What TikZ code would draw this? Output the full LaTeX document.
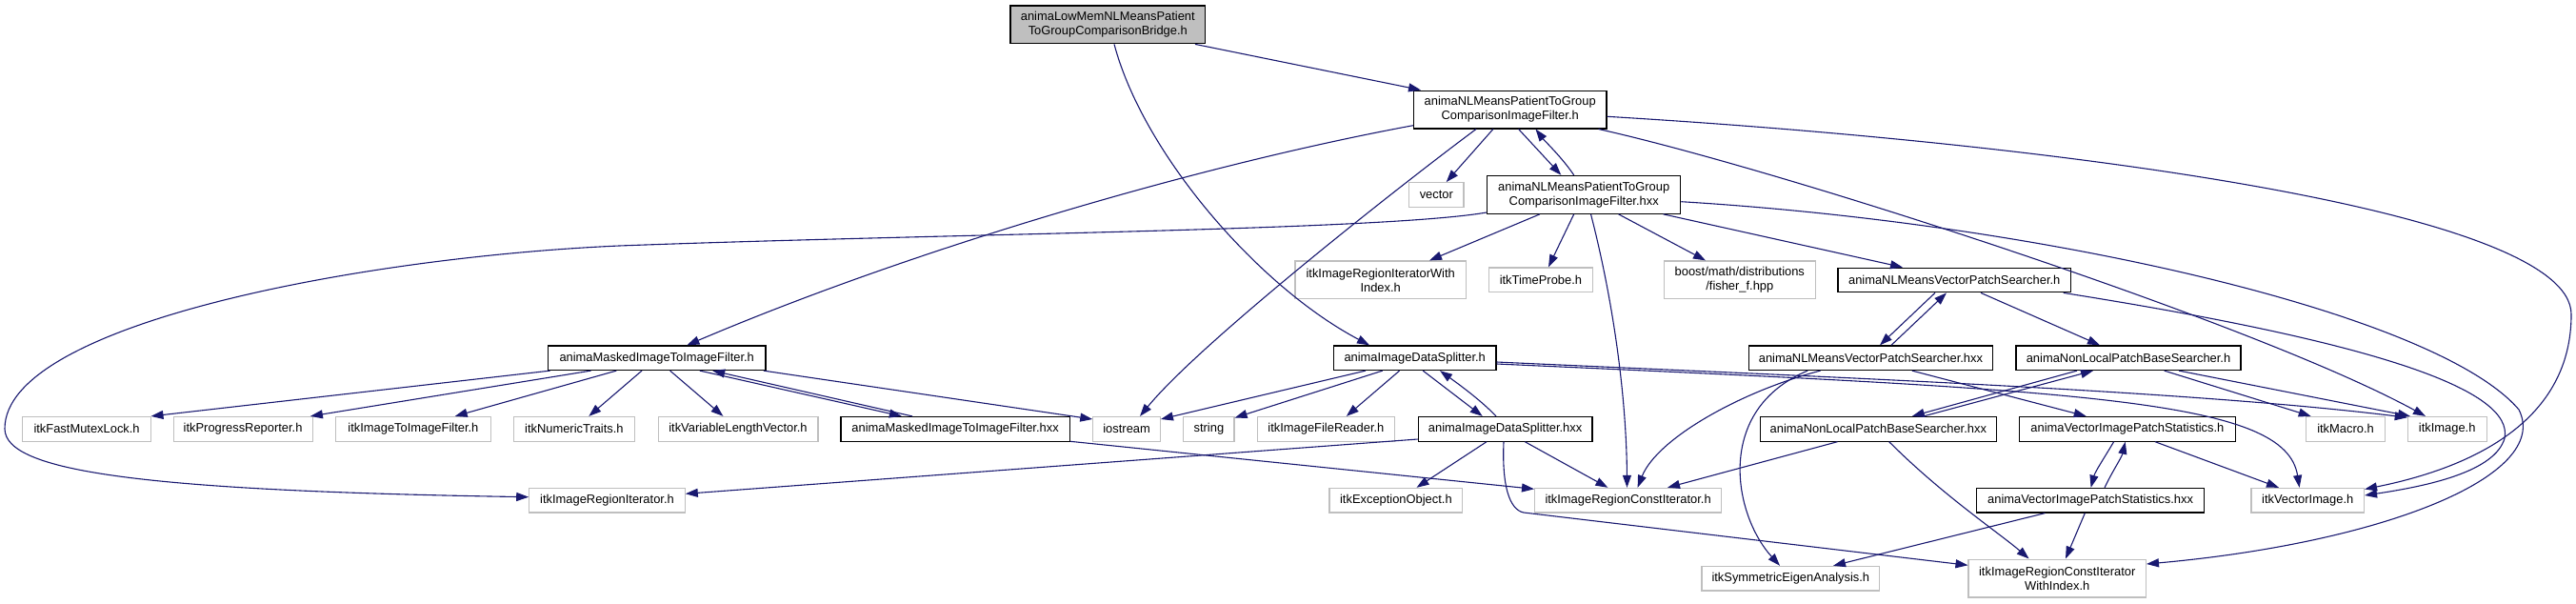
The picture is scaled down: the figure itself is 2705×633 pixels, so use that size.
\documentclass[tikz,border=0pt]{standalone}
\usepackage{fontspec}
\newfontfamily\dgfont{Liberation Sans}
\usetikzlibrary{arrows.meta,calc}
\definecolor{edgeblue}{HTML}{191970}
\definecolor{extgray}{HTML}{BFBFBF}
\newcommand\nodefont{\dgfont\fontsize{12.9}{15}\selectfont}
\tikzset{
  fbox/.style={draw=black, line width=1.2pt, rectangle, inner sep=0pt, align=center, font=\nodefont, text=black},
  ext/.style={fbox, draw=extgray},
  rootbox/.style={fbox, fill=extgray},
  edge/.style={draw=edgeblue, line width=1.1pt, -{Triangle[length=13pt,width=9pt]}},
  one/.style={minimum height=25.6pt},
  two/.style={minimum height=39.8pt},
}
\begin{document}
\begin{tikzpicture}[x=1pt,y=-1pt]
\useasboundingbox (0,0) rectangle (2705,633);
% nodes
\node[rootbox,two,minimum width=204.7pt] (root) at (1163.3,25.9) {animaLowMemNLMeansPatient\\ToGroupComparisonBridge.h};
\node[fbox,two,minimum width=202.6pt] (NLh) at (1585.7,115) {animaNLMeansPatientToGroup\\ComparisonImageFilter.h};
\node[ext,one,minimum width=57.5pt] (vector) at (1508.3,204.5) {vector};
\node[fbox,two,minimum width=203.1pt] (NLhxx) at (1663.2,204.3) {animaNLMeansPatientToGroup\\ComparisonImageFilter.hxx};
\node[ext,two,minimum width=179.3pt] (IRIWI) at (1449.7,293.9) {itkImageRegionIteratorWith\\Index.h};
\node[ext,one,minimum width=108.9pt] (timeprobe) at (1617.9,293.7) {itkTimeProbe.h};
\node[ext,two,minimum width=158.9pt] (boost) at (1826.8,293.9) {boost/math/distributions\\/fisher\_f.hpp};
\node[fbox,one,minimum width=244.5pt] (NLMVPSh) at (2052.2,294) {animaNLMeansVectorPatchSearcher.h};
\node[fbox,one,minimum width=228.6pt] (MaskedH) at (689.7,375.7) {animaMaskedImageToImageFilter.h};
\node[fbox,one,minimum width=170.6pt] (IDSh) at (1485.7,375.7) {animaImageDataSplitter.h};
\node[fbox,one,minimum width=256.3pt] (NLMVPShxx) at (1964.4,375.7) {animaNLMeansVectorPatchSearcher.hxx};
\node[fbox,one,minimum width=235.9pt] (NLPBSh) at (2235,375.7) {animaNonLocalPatchBaseSearcher.h};
\node[ext,one,minimum width=134.8pt] (fml) at (91.1,450.3) {itkFastMutexLock.h};
\node[ext,one,minimum width=146pt] (pr) at (255.1,450.3) {itkProgressReporter.h};
\node[ext,one,minimum width=163.4pt] (itoi) at (433.9,450.3) {itkImageToImageFilter.h};
\node[ext,one,minimum width=127.2pt] (nt) at (602.9,450.3) {itkNumericTraits.h};
\node[ext,one,minimum width=167.8pt] (vlv) at (775,450.3) {itkVariableLengthVector.h};
\node[fbox,one,minimum width=240.2pt] (MaskedHxx) at (1003.1,450.3) {animaMaskedImageToImageFilter.hxx};
\node[ext,one,minimum width=70.5pt] (iostream) at (1183.1,450.3) {iostream};
\node[ext,one,minimum width=53.2pt] (string) at (1269.4,450.3) {string};
\node[ext,one,minimum width=143.8pt] (ifr) at (1392.4,450.3) {itkImageFileReader.h};
\node[fbox,one,minimum width=182.6pt] (IDShxx) at (1580.6,450.3) {animaImageDataSplitter.hxx};
\node[fbox,one,minimum width=248.2pt] (NLPBShxx) at (1972.3,450.3) {animaNonLocalPatchBaseSearcher.hxx};
\node[fbox,one,minimum width=226.7pt] (VIPSh) at (2233.9,450.3) {animaVectorImagePatchStatistics.h};
\node[ext,one,minimum width=82.3pt] (macro) at (2463,450.3) {itkMacro.h};
\node[ext,one,minimum width=82.8pt] (image) at (2569.7,450.3) {itkImage.h};
\node[ext,one,minimum width=163.4pt] (IRI) at (637.5,525.2) {itkImageRegionIterator.h};
\node[ext,one,minimum width=139.7pt] (exc) at (1465.9,525.2) {itkExceptionObject.h};
\node[ext,one,minimum width=196pt] (IRCI) at (1709.6,525.2) {itkImageRegionConstIterator.h};
\node[fbox,one,minimum width=238.8pt] (VIPShxx) at (2195.1,525.2) {animaVectorImagePatchStatistics.hxx};
\node[ext,one,minimum width=118.5pt] (vimg) at (2423.2,525.2) {itkVectorImage.h};
\node[ext,one,minimum width=186.6pt] (symeig) at (1880.3,607.2) {itkSymmetricEigenAnalysis.h};
\node[ext,two,minimum width=186.3pt] (IRCIWI) at (2160.2,607) {itkImageRegionConstIterator\\WithIndex.h};
% edges from root
\draw[edge] ($(root.south)+(91.7,0)$) -- ($(NLh.north)+(-93.7,0)$);
\draw[edge] ($(root.south)+(6.7,0)$) .. controls (1200,160) and (1320,300) .. ($(IDSh.north)+(-47.7,0)$);
% edges from NLh
\draw[edge] ($(NLh.south)+(8.9,0)$) -- ($(NLhxx.north)+(-23.9,0)$);
\draw[edge] ($(NLhxx.north)+(-10.5,0)$) .. controls (1640,165) and (1622,148) .. ($(NLh.south)+(26.8,0)$);
\draw[edge] ($(NLh.south)+(-17.8,0)$) -- ($(vector.north)+(10.4,0)$);
\draw[edge] ($(NLh.west)+(0,16.7)$) .. controls (1250,175) and (950,265) .. ($(MaskedH.north)+(31.7,0)$);
\draw[edge] ($(NLh.south)+(-35.7,0)$) .. controls (1470,195) and (1260,360) .. ($(iostream.north)+(13.9,0)$);
\draw[edge] ($(NLh.south)+(92.9,0)$) .. controls (1870,178) and (2370,340) .. ($(image.north)+(-22.7,0)$);
\draw[edge] ($(NLh.east)+(0,7.3)$) .. controls (2150,150) and (2700,220) .. (2700,330)
   .. controls (2700,440) and (2600,490) .. ($(vimg.east)+(0,-11.7)$);
% edges from NLhxx
\draw[edge] ($(NLhxx.west)+(0,18.7)$) .. controls (1450,242) and (1000,245) .. (650,258)
   .. controls (380,270) and (5,340) .. (5,450)
   .. controls (5,495) and (150,515) .. ($(IRI.west)+(0,-3.5)$);
\draw[edge] ($(NLhxx.south)+(-46.2,0)$) -- ($(IRIWI.north)+(51.3,0)$);
\draw[edge] ($(NLhxx.south)+(-10.5,0)$) -- ($(timeprobe.north)+(8.1,0)$);
\draw[edge] ($(NLhxx.south)+(36.3,0)$) -- ($(boost.north)+(-35.8,0)$);
\draw[edge] ($(NLhxx.south)+(83.2,0)$) -- ($(NLMVPSh.north)+(-54.2,0)$);
\draw[edge] ($(NLhxx.south)+(7.3,0)$) .. controls (1695,320) and (1708,420) .. ($(IRCI.north)+(-1.1,0)$);
\draw[edge] ($(NLhxx.east)+(0,7.4)$) .. controls (2150,235) and (2560,330) .. (2645,430)
   .. controls (2680,500) and (2500,570) .. ($(IRCIWI.east)+(0,-15)$);
% edges from MaskedH
\draw[edge] ($(MaskedH.south)+(-112,0)$) -- ($(fml.north)+(67.4,0)$);
\draw[edge] ($(MaskedH.south)+(-69.2,0)$) -- ($(pr.north)+(70.8,0)$);
\draw[edge] ($(MaskedH.south)+(-42.4,0)$) -- ($(itoi.north)+(43.8,0)$);
\draw[edge] ($(MaskedH.south)+(-15.7,0)$) -- ($(nt.north)+(15.4,0)$);
\draw[edge] ($(MaskedH.south)+(13.9,0)$) -- ($(vlv.north)+(-15.6,0)$);
\draw[edge] ($(MaskedH.south)+(45.1,0)$) -- ($(MaskedHxx.north)+(-56.2,0)$);
\draw[edge] ($(MaskedHxx.north)+(-45.1,0)$) -- ($(MaskedH.south)+(58.5,0)$);
\draw[edge] ($(MaskedH.south)+(112.1,0)$) -- ($(iostream.west)+(0,-10.3)$);
\draw[edge] ($(MaskedHxx.east)+(0,13)$) -- ($(IRCI.west)+(0,-11.9)$);
% edges from IDSh
\draw[edge] ($(IDSh.south)+(-51.7,0)$) -- ($(iostream.east)+(0,-10.3)$);
\draw[edge] ($(IDSh.south)+(-33.9,0)$) -- ($(string.east)+(0,-11.8)$);
\draw[edge] ($(IDSh.south)+(-16.1,0)$) -- ($(ifr.north)+(21.4,0)$);
\draw[edge] ($(IDSh.south)+(8.5,0)$) -- ($(IDShxx.north)+(-23.9,0)$);
\draw[edge] ($(IDShxx.north)+(-9.6,0)$) .. controls (1555,420) and (1530,402) .. ($(IDSh.south)+(26.3,0)$);
\draw[edge] ($(IDSh.east)+(0,4.3)$) .. controls (1900,395) and (2300,410) .. ($(image.west)+(0,-12)$);
\draw[edge] ($(IDSh.east)+(0,6.3)$) .. controls (2200,410) and (2400,420) .. ($(vimg.north)+(-8.6,0)$);
% edges from IDShxx
\draw[edge] ($(IDShxx.west)+(0,10.7)$) -- ($(IRI.east)+(0,-6.9)$);
\draw[edge] ($(IDShxx.south)+(-19.6,0)$) -- ($(exc.north)+(21.6,0)$);
\draw[edge] ($(IDShxx.south)+(20.7,0)$) -- ($(IRCI.north)+(-21.2,0)$);
\draw[edge] ($(IDShxx.south)+(-1.6,0)$) .. controls (1577,510) and (1585,535) .. (1600,538) -- ($(IRCIWI.west)+(0,-13.7)$);
% edges from NLMVPSh
\draw[edge] ($(NLMVPSh.south)+(-20.3,0)$) -- ($(NLMVPShxx.north)+(9.6,0)$);
\draw[edge] ($(NLMVPShxx.north)+(21.6,0)$) -- ($(NLMVPSh.south)+(-8.2,0)$);
\draw[edge] ($(NLMVPSh.south)+(27.8,0)$) -- ($(NLPBSh.north)+(-30,0)$);
\draw[edge] ($(NLMVPSh.south)+(114.5,0)$) .. controls (2500,360) and (2640,410) .. (2630,460)
   .. controls (2620,495) and (2550,510) .. ($(vimg.east)+(0,-5.2)$);
% edges from NLMVPShxx
\draw[edge] ($(NLMVPShxx.south)+(-52.8,0)$) .. controls (1830,410) and (1740,460) .. ($(IRCI.north)+(10,0)$);
\draw[edge] ($(NLMVPShxx.south)+(-66.2,0)$) .. controls (1800,430) and (1820,540) .. ($(symeig.north)+(-11.3,0)$);
\draw[edge] ($(NLMVPShxx.south)+(43.4,0)$) -- ($(VIPSh.north)+(-43.2,0)$);
% edges from NLPBSh
\draw[edge] ($(NLPBSh.south)+(-54,0)$) -- ($(NLPBShxx.north)+(35.5,0)$);
\draw[edge] ($(NLPBShxx.north)+(47.5,0)$) -- ($(NLPBSh.south)+(-37,0)$);
\draw[edge] ($(NLPBSh.south)+(37.6,0)$) -- ($(macro.north)+(-36.3,0)$);
\draw[edge] ($(NLPBSh.south)+(53,0)$) -- ($(image.north)+(-38.7,0)$);
% edges from NLPBShxx
\draw[edge] ($(NLPBShxx.south)+(-42.9,0)$) -- ($(IRCI.north)+(41.4,0)$);
\draw[edge] ($(NLPBShxx.south)+(11.4,0)$) .. controls (2040,520) and (2100,560) .. ($(IRCIWI.north)+(-29.6,0)$);
% edges from VIPSh / VIPShxx
\draw[edge] ($(VIPSh.south)+(-14.3,0)$) .. controls (2210,480) and (2200,495) .. ($(VIPShxx.north)+(0.5,0)$);
\draw[edge] ($(VIPShxx.north)+(14.9,0)$) .. controls (2218,495) and (2228,480) .. ($(VIPSh.south)+(-2.2,0)$);
\draw[edge] ($(VIPSh.south)+(29.1,0)$) -- ($(vimg.north)+(-30.2,0)$);
\draw[edge] ($(VIPShxx.south)+(-47.7,0)$) -- ($(symeig.north)+(44.7,0)$);
\draw[edge] ($(VIPShxx.south)+(-5.8,0)$) -- ($(IRCIWI.north)+(8.8,0)$);
\end{tikzpicture}
\end{document}
